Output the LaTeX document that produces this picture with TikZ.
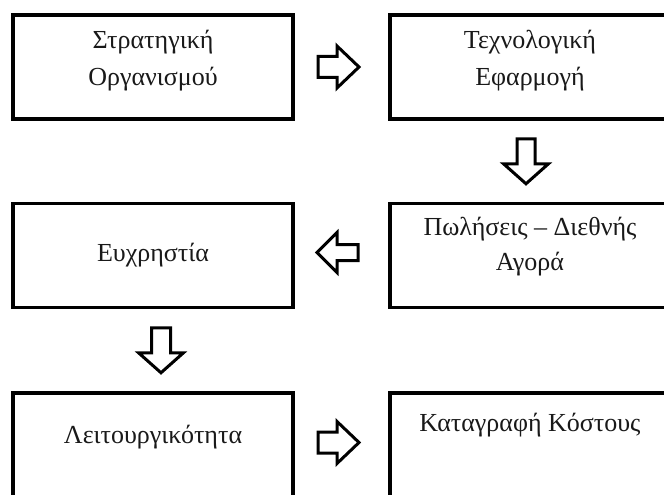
\documentclass[tikz,border=0pt]{standalone}
\usepackage{fontspec}
\setmainfont{Liberation Serif}
\usetikzlibrary{calc}
\begin{document}
\begin{tikzpicture}[x=1pt,y=-1pt,
  box/.style={draw=black, line width=3.8pt, minimum width=280pt, minimum height=104pt, inner sep=0pt},
  lbl/.style={anchor=base, inner sep=0pt, text=black!90, font=\fontsize{26}{30}\selectfont},
  blockarrow/.style={draw=black, line width=3pt, fill=white, line join=miter},
  % hollow block arrow pointing right: length, head width, shaft width, head length
  pics/blockarr/.style n args={4}{code={
    \draw[blockarrow] (-#1/2,-#3/2) -- (#1/2-#4,-#3/2) -- (#1/2-#4,-#2/2) -- (#1/2,0)
      -- (#1/2-#4,#2/2) -- (#1/2-#4,#3/2) -- (-#1/2,#3/2) -- cycle;
  }}]
\useasboundingbox (0,0) rectangle (664,495);
\clip (0,0) rectangle (664,495);

% boxes
\node[box] (strat) at (153,67) {};
\node[box] (tech)  at (530,67) {};
\node[box] (sales) at (530,255.5) {};
\node[box] (usab)  at (153,255.5) {};
\node[box, minimum height=105pt] (func) at (153,445.5) {};
\node[box, minimum height=105pt] (cost) at (530,445.5) {};

% labels
\node[lbl] (strat1) at ($(strat.north)+(0,35)$) {Στρατηγική};
\node[lbl] (strat2) at ($(strat.north)+(0,72)$) {Οργανισμού};
\node[lbl] (tech1)  at ($(tech.north)+(0,35)$) {Τεχνολογική};
\node[lbl] (tech2)  at ($(tech.north)+(0,72)$) {Εφαρμογή};
\node[lbl] (sales1) at ($(sales.north)+(0,34)$) {Πωλήσεις – Διεθνής};
\node[lbl] (sales2) at ($(sales.north)+(0,69)$) {Αγορά};
\node[lbl] (usab1)  at ($(usab.north)+(0,60)$) {Ευχρηστία};
\node[lbl] (func1)  at ($(func.north)+(0,52)$) {Λειτουργικότητα};
\node[lbl] (cost1)  at ($(cost.north)+(0,40)$) {Καταγραφή Κόστους};

% arrow positions between neighbouring boxes
\coordinate (a1) at ($($(strat.east)!0.5!(tech.west)$)+(-3,0)$);
\coordinate (a2) at ($($(tech.south)!0.5!(sales.north)$)+(-4,0)$);
\coordinate (a3) at ($($(sales.west)!0.5!(usab.east)$)+(-4,-3)$);
\coordinate (a4) at ($($(usab.south)!0.5!(func.north)$)+(8,0)$);
\coordinate (a5) at ($($(func.east)!0.5!(cost.west)$)+(-3,-3)$);

% block arrows
\pic at (a1) {blockarr={41}{42}{21}{22}};
\pic[rotate=-90] at (a2) {blockarr={45}{45}{18}{20}};
\pic[rotate=180] at (a3) {blockarr={41}{40}{16}{20}};
\pic[rotate=-90] at (a4) {blockarr={45}{45}{19}{20}};
\pic at (a5) {blockarr={41}{42}{21}{22}};
\end{tikzpicture}
\end{document}
